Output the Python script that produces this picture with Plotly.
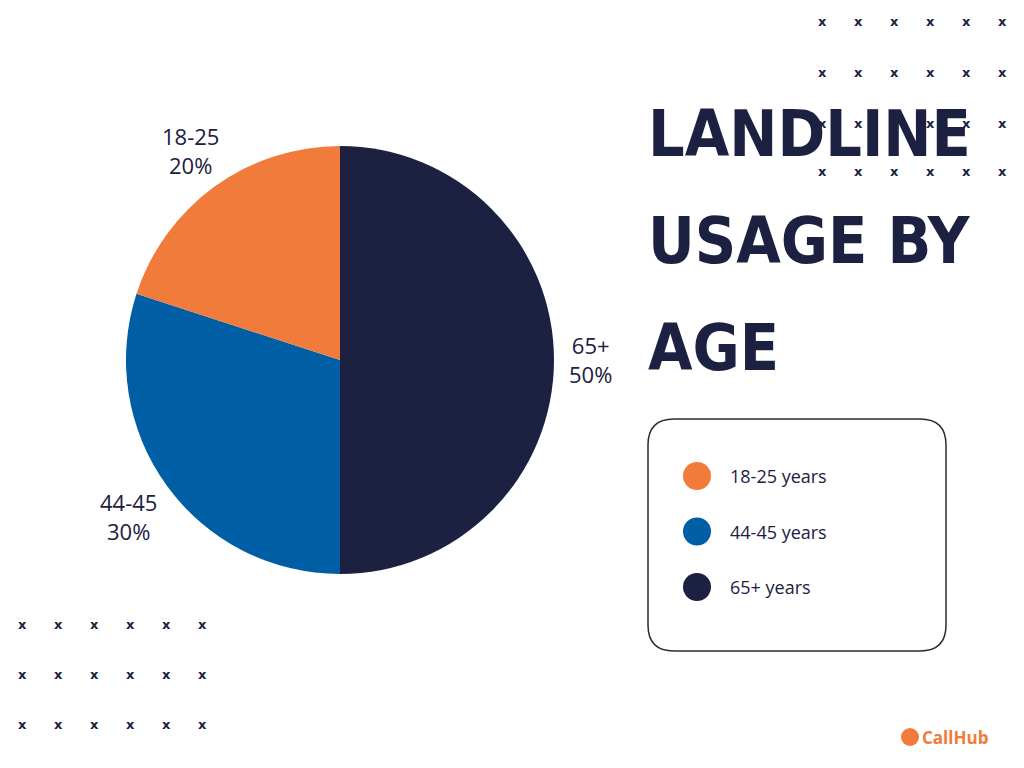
import plotly.graph_objects as go
import re

labels = ["65+", "44-45", "18-25"]
values = [50, 30, 20]
colors = ["#1c2041", "#005ea5", "#f07b3a"]
legend_labels = ["18-25 years", "44-45 years", "65+ years"]
legend_colors = ["#f07b3a", "#005ea5", "#1c2041"]
title_lines = ["LANDLINE", "USAGE BY", "AGE"]

W, H = 1024, 768
OFF = 8
def px(x): return (x - OFF) / W
def py(y): return 1 - (y - OFF) / H

fig = go.Figure()
fig.add_trace(go.Pie(
    labels=labels, values=values, sort=False, direction="clockwise", rotation=0,
    marker=dict(colors=colors), textinfo="none", hoverinfo="label+percent",
    domain=dict(x=[px(126), px(554)], y=[py(574), py(146)]), showlegend=False))

label_pos = {"65+": (590, 360), "44-45": (128, 516), "18-25": (190, 150)}
total = sum(values)
for l, v in zip(labels, values):
    x, y = label_pos[l]
    fig.add_annotation(x=px(x), y=py(y), xref="paper", yref="paper", showarrow=False,
                       xanchor="center", yanchor="middle",
                       text=f"{l}<br>{round(100*v/total)}%", align="center",
                       font=dict(family="Open Sans", size=22, color="#1c2041"))

for i, t in enumerate(title_lines):
    fig.add_annotation(x=px(646), y=py(134 + i * 107), xref="paper", yref="paper",
                       xanchor="left", yanchor="middle", showarrow=False, text=f"<b>{t}</b>",
                       font=dict(family="DejaVu Sans Condensed", size=64, color="#1c2041"))

shapes = []
X0, Y0, X1, Y1, r = 648, 419, 946, 651, 26
path = (f"M {X0+r},{Y0} L {X1-r},{Y0} Q {X1},{Y0} {X1},{Y0+r} L {X1},{Y1-r} Q {X1},{Y1} {X1-r},{Y1} "
        f"L {X0+r},{Y1} Q {X0},{Y1} {X0},{Y1-r} L {X0},{Y0+r} Q {X0},{Y0} {X0+r},{Y0} Z")
def conv(m):
    return f"{px(float(m.group(1)))},{py(float(m.group(2)))}"
path = re.sub(r"([\d.]+),([\d.]+)", conv, path)
shapes.append(dict(type="path", path=path, xref="paper", yref="paper",
                   line=dict(color="#2b2b2b", width=1.5)))
for i, (lab, c) in enumerate(zip(legend_labels, legend_colors)):
    cy = 476 + i * 55.5
    shapes.append(dict(type="circle", xref="paper", yref="paper", x0=px(683), x1=px(711),
                       y0=py(cy + 14), y1=py(cy - 14), fillcolor=c, line=dict(width=0)))
    fig.add_annotation(x=px(728), y=py(cy), xref="paper", yref="paper", xanchor="left", yanchor="middle",
                       showarrow=False, text=lab, font=dict(family="Open Sans", size=18, color="#1c2041"))

for gx, gy in [([822 + 36 * i for i in range(6)], [21, 72, 123, 172]),
               ([22 + 36 * i for i in range(6)], [624, 674, 724])]:
    for yy in gy:
        for xx in gx:
            fig.add_annotation(x=px(xx), y=py(yy), xref="paper", yref="paper", showarrow=False,
                               xanchor="center", yanchor="middle",
                               text="<b>x</b>", font=dict(family="DejaVu Sans", size=13, color="#1c2041"))

shapes.append(dict(type="circle", xref="paper", yref="paper", x0=px(901), x1=px(919),
                   y0=py(746), y1=py(728), fillcolor="#f07b3a", line=dict(width=0)))
fig.add_annotation(x=px(920), y=py(737), xref="paper", yref="paper", xanchor="left", yanchor="middle",
                   showarrow=False, text="<b>CallHub</b>",
                   font=dict(family="Open Sans", size=17, color="#f07b3a"))

fig.update_layout(width=W, height=H, margin=dict(l=0, r=0, t=0, b=0),
                  paper_bgcolor="white", plot_bgcolor="white", shapes=shapes)
fig.write_html("out.html")
